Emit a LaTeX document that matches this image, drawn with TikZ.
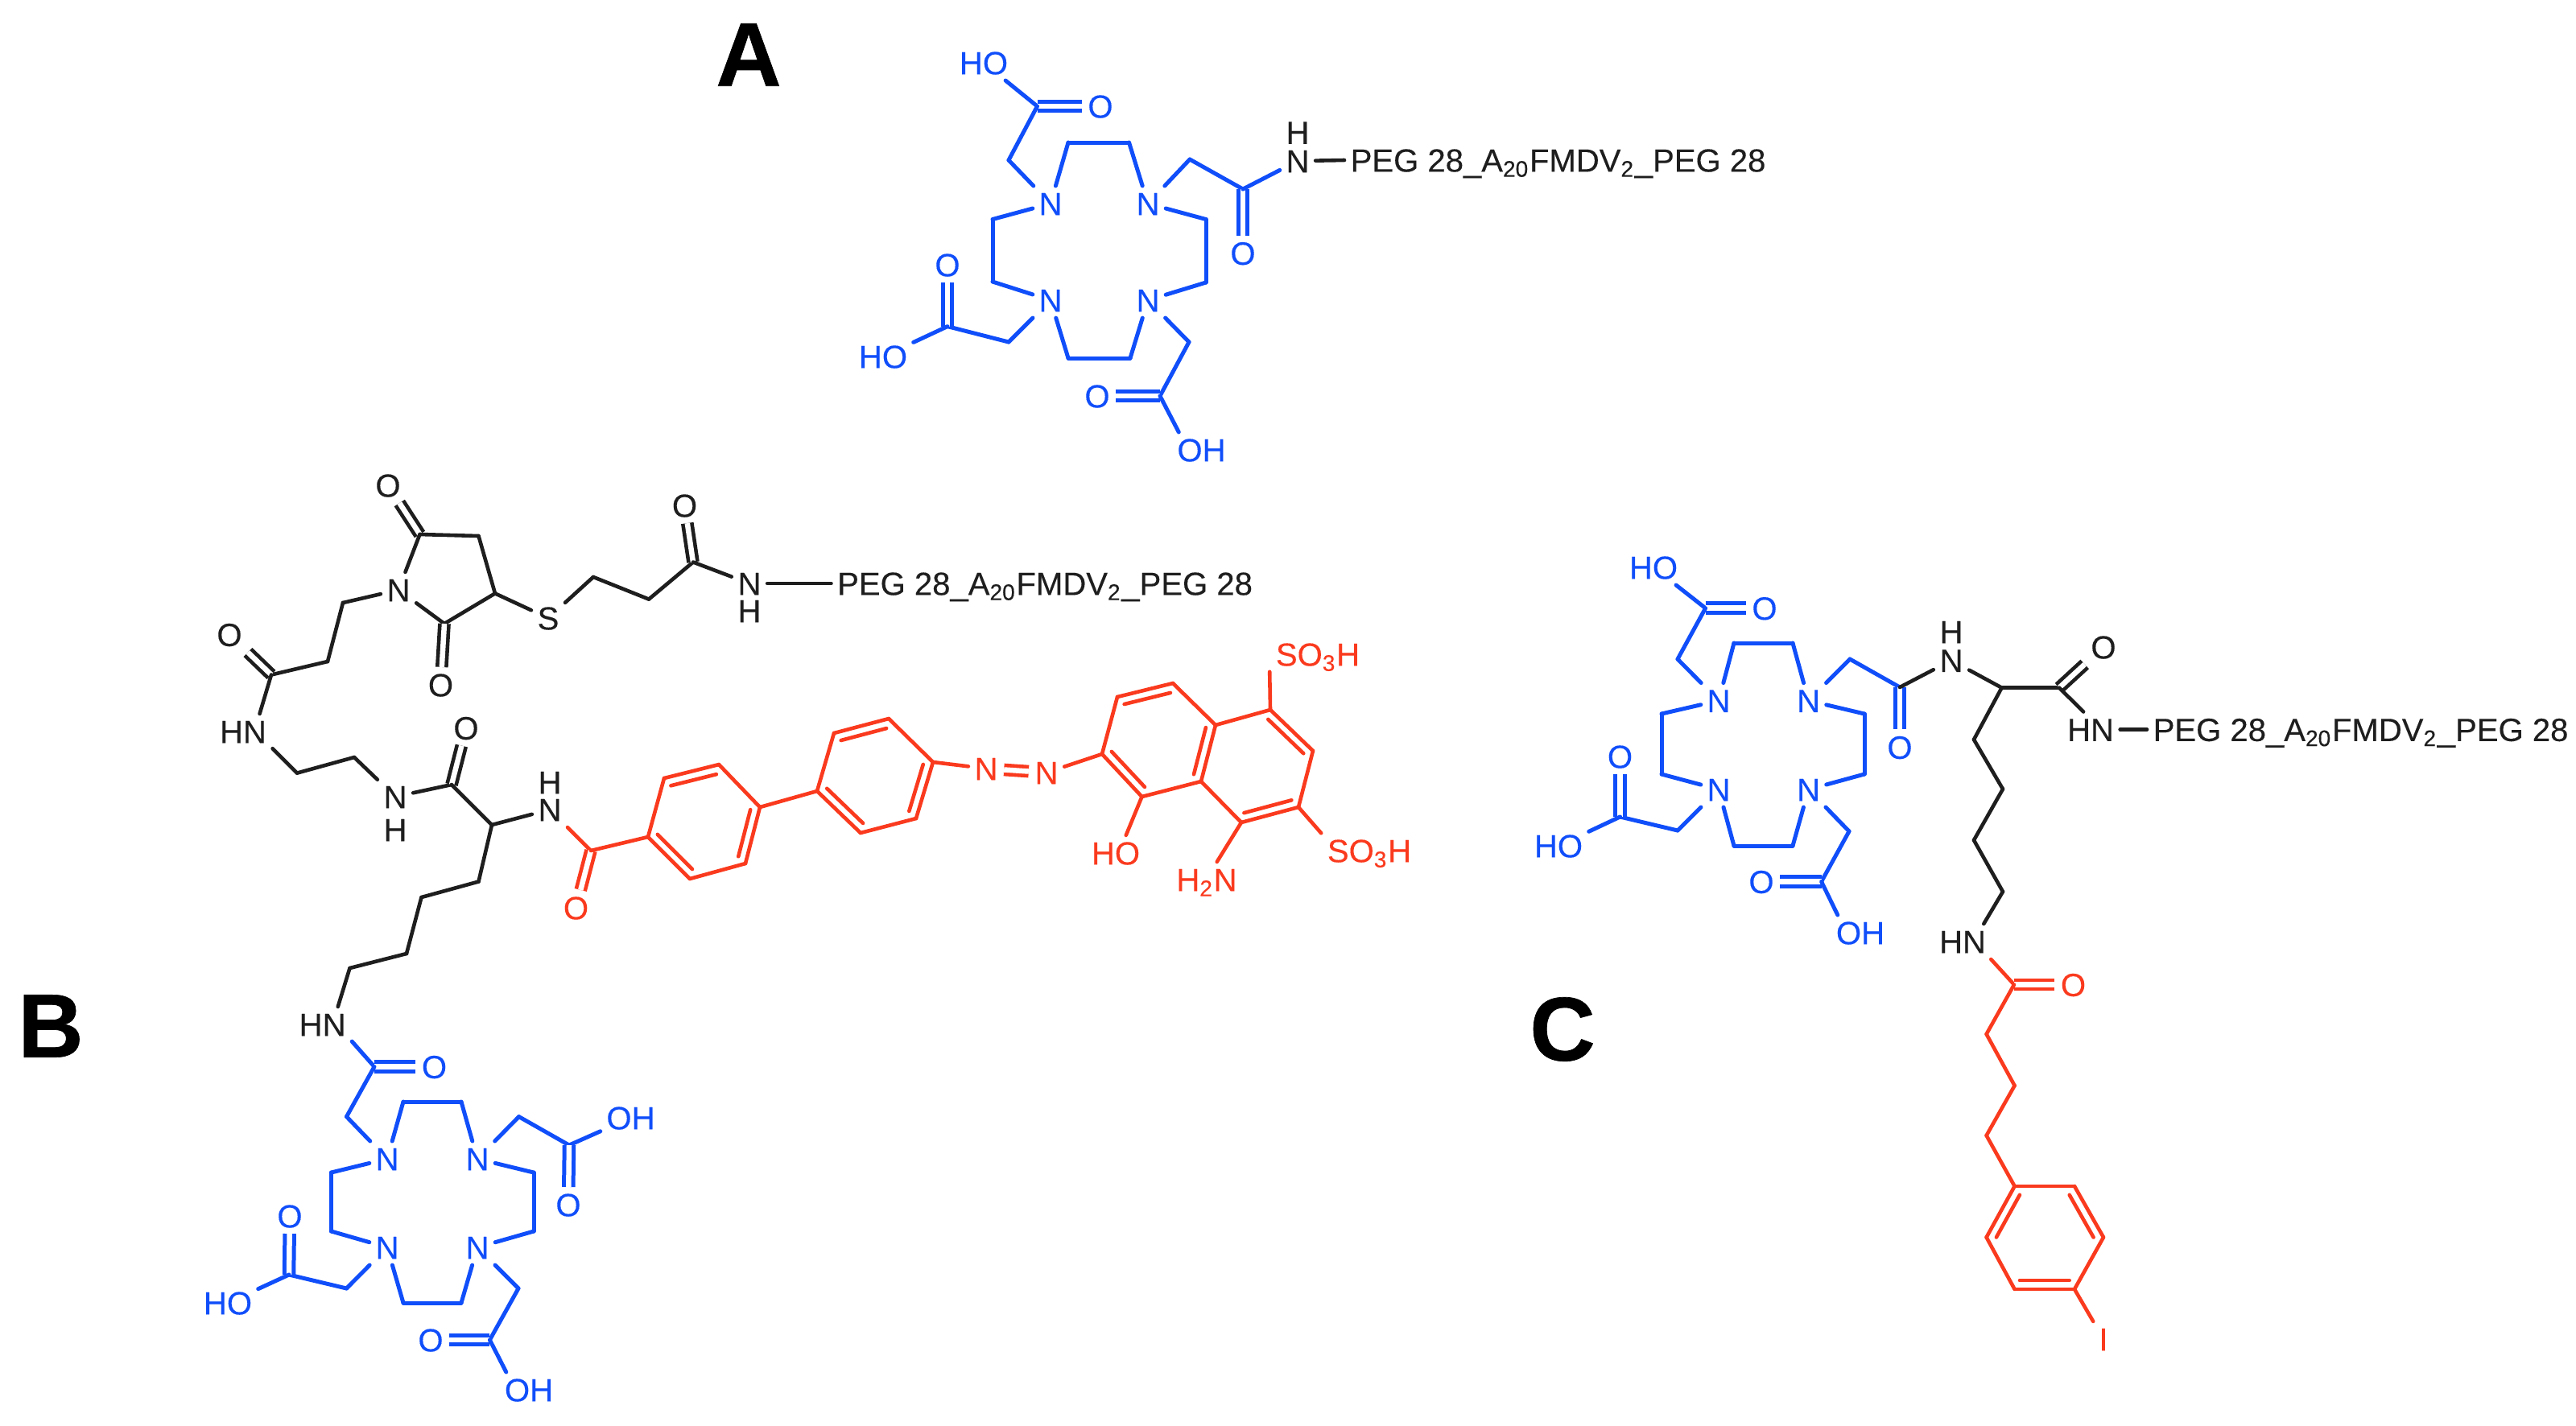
\documentclass[tikz,border=0pt]{standalone}
\usepackage{fontspec}
\setmainfont[BoldFont={Liberation Sans Bold},BoldFeatures={FakeBold=.6},FakeBold=.25]{Liberation Sans}
\usetikzlibrary{calc}
\definecolor{dotablue}{RGB}{16,78,250}
\definecolor{dyered}{RGB}{250,58,30}
\definecolor{linkgray}{RGB}{30,30,30}
\newcommand{\pegtext}{PEG 28\_A\textsubscript{20}FMDV\textsubscript{2}\_PEG 28}
\begin{document}
\begin{tikzpicture}[x=1cm, y=-1cm,
		n/.style={inner sep=.07cm, text height=.287cm, text depth=0pt, text=linkgray, font=\fontsize{11.4}{13}\selectfont},
		nb/.style={n, text=dotablue},
		nr/.style={n, text=dyered},
		peg/.style={n, anchor=west},
		big/.style={inner sep=0pt, text=black, font=\fontsize{32}{36}\bfseries\selectfont},
		bk/.style={draw=linkgray, line width=.046cm, line cap=round},
		bl/.style={draw=dotablue, line width=.05cm, line cap=round},
		rd/.style={draw=dyered, line width=.046cm, line cap=round},
		dbl/.style={double, double distance=.065cm, line cap=butt}]
		\useasboundingbox (0,0) rectangle (32,17.71);

		\node[big] (lblA) at (9.30, .68) {A};
		\node[big] (lblB) at (.63, 12.75) {B};
		\node[big] (lblC) at (19.41, 12.79) {C};

		\node[nb] (aHO) at (12.22, .78) {HO};
		\coordinate (aC1) at (12.885, 1.32);
		\node[nb] (aO1) at (13.67, 1.32) {O};
		\coordinate (aC2) at (12.53, 1.99);
		\node[nb] (aN1) at (13.05, 2.53) {N};
		\coordinate (aR1) at (13.27, 1.77);
		\coordinate (aR2) at (14.025, 1.77);
		\node[nb] (aN2) at (14.26, 2.53) {N};
		\coordinate (aR3) at (14.98, 2.725);
		\coordinate (aR4) at (14.98, 3.51);
		\node[nb] (aN3) at (14.26, 3.73) {N};
		\coordinate (aR5) at (14.04, 4.45);
		\coordinate (aR6) at (13.27, 4.45);
		\node[nb] (aN4) at (13.05, 3.73) {N};
		\coordinate (aR7) at (12.33, 3.50);
		\coordinate (aR8) at (12.33, 2.725);
		\coordinate (aC3) at (14.78, 1.98);
		\coordinate (aC4) at (15.44, 2.35);
		\node[nb] (aO2) at (15.44, 3.146) {O};
		\node[n] (aN5) at (16.12, 2.00) {N};
		\node[n] (aH) at (16.12, 1.645) {H};
		\node[peg] (aPeg) at (16.70, 1.99) {\pegtext};
		\coordinate (aC5) at (12.53, 4.25);
		\coordinate (aC6) at (11.77, 4.056);
		\node[nb] (aO3) at (11.77, 3.29) {O};
		\node[nb] (aHO2) at (10.97, 4.43) {HO};
		\coordinate (aC7) at (14.77, 4.25);
		\coordinate (aC8) at (14.41, 4.92);
		\node[nb] (aO4) at (13.63, 4.92) {O};
		\node[nb] (aOH) at (14.925, 5.59) {OH};

		\draw[bl] (aC1) edge (aHO);
		\draw[bl] (aC1) edge[dbl] (aO1);
		\draw[bl] (aC1) edge (aC2);
		\draw[bl] (aC2) edge (aN1);
		\draw[bl] (aN1) edge (aR1);
		\draw[bl] (aR1) edge (aR2);
		\draw[bl] (aR2) edge (aN2);
		\draw[bl] (aN2) edge (aR3);
		\draw[bl] (aR3) edge (aR4);
		\draw[bl] (aR4) edge (aN3);
		\draw[bl] (aN3) edge (aR5);
		\draw[bl] (aR5) edge (aR6);
		\draw[bl] (aR6) edge (aN4);
		\draw[bl] (aN4) edge (aR7);
		\draw[bl] (aR7) edge (aR8);
		\draw[bl] (aR8) edge (aN1);
		\draw[bl] (aN2) edge (aC3);
		\draw[bl] (aC3) edge (aC4);
		\draw[bl] (aC4) edge[dbl] (aO2);
		\draw[bl] (aC4) edge (aN5);
		\draw[bk] (aN5) edge (aPeg.west);
		\draw[bl] (aN4) edge (aC5);
		\draw[bl] (aC5) edge (aC6);
		\draw[bl] (aC6) edge[dbl] (aO3);
		\draw[bl] (aC6) edge (aHO2);
		\draw[bl] (aN3) edge (aC7);
		\draw[bl] (aC7) edge (aC8);
		\draw[bl] (aC8) edge[dbl] (aO4);
		\draw[bl] (aC8) edge (aOH.142);

		\node[n] (bO1) at (4.82, 6.03) {O};
		\coordinate (bC1) at (5.215, 6.64);
		\coordinate (bC2) at (5.945, 6.66);
		\coordinate (bC3) at (6.15, 7.374);
		\coordinate (bC4) at (5.52, 7.75);
		\node[n] (bO2) at (5.475, 8.51) {O};
		\node[n] (bN1) at (4.95, 7.33) {N};
		\node[n] (bS) at (6.81, 7.68) {S};
		\coordinate (bC5) at (7.37, 7.17);
		\coordinate (bC6) at (8.06, 7.446);
		\coordinate (bC7) at (8.61, 6.985);
		\node[n] (bO3) at (8.505, 6.28) {O};
		\node[n] (bN2) at (9.31, 7.25) {N};
		\node[n] (bH1) at (9.31, 7.59) {H};
		\node[peg] (bPeg) at (10.325, 7.25) {\pegtext};
		\coordinate (bC8) at (4.26, 7.49);
		\coordinate (bC9) at (4.07, 8.22);
		\coordinate (bC10) at (3.37, 8.385);
		\node[n] (bO4) at (2.85, 7.885) {O};
		\node[n] (bHN1) at (3.02, 9.09) {HN};
		\coordinate (bC11) at (3.69, 9.606);
		\coordinate (bC12) at (4.40, 9.41);
		\node[n] (bN3) at (4.91, 9.90) {N};
		\node[n] (bH2) at (4.91, 10.31) {H};
		\coordinate (bC13) at (5.61, 9.75);
		\node[n] (bO5) at (5.79, 9.045) {O};
		\coordinate (bC14) at (6.11, 10.25);
		\node[n] (bN4) at (6.83, 10.06) {N};
		\node[n] (bH3) at (6.83, 9.72) {H};
		\coordinate (bC15) at (5.945, 10.955);
		\coordinate (bC16) at (5.235, 11.15);
		\coordinate (bC17) at (5.05, 11.85);
		\coordinate (bC18) at (4.345, 12.03);
		\node[n] (bHN2) at (4.006, 12.73) {HN};

		\draw[bk] (bC1) edge[dbl] (bO1);
		\draw[bk] (bC1) edge (bC2);
		\draw[bk] (bC2) edge (bC3);
		\draw[bk] (bC3) edge (bC4);
		\draw[bk] (bC4) edge (bN1);
		\draw[bk] (bN1) edge (bC1);
		\draw[bk] (bC4) edge[dbl] (bO2);
		\draw[bk] (bC3) edge (bS);
		\draw[bk] (bS) edge (bC5);
		\draw[bk] (bC5) edge (bC6);
		\draw[bk] (bC6) edge (bC7);
		\draw[bk] (bC7) edge[dbl] (bO3);
		\draw[bk] (bC7) edge (bN2);
		\draw[bk] (bN2) edge (bPeg.west);
		\draw[bk] (bN1) edge (bC8);
		\draw[bk] (bC8) edge (bC9);
		\draw[bk] (bC9) edge (bC10);
		\draw[bk] (bC10) edge[dbl] (bO4);
		\draw[bk] (bC10) edge (bHN1.47);
		\draw[bk] (bHN1.-30) edge (bC11);
		\draw[bk] (bC11) edge (bC12);
		\draw[bk] (bC12) edge (bN3);
		\draw[bk] (bN3) edge (bC13);
		\draw[bk] (bC13) edge[dbl] (bO5);
		\draw[bk] (bC13) edge (bC14);
		\draw[bk] (bC14) edge (bN4);
		\draw[bk] (bC14) edge (bC15);
		\draw[bk] (bC15) edge (bC16);
		\draw[bk] (bC16) edge (bC17);
		\draw[bk] (bC17) edge (bC18);
		\draw[bk] (bC18) edge (bHN2.49);

		\coordinate (dC1) at (7.34, 10.57);
		\node[nr] (dO1) at (7.155, 11.28) {O};
		\coordinate (dA1) at (8.05, 10.40);
		\coordinate (dA2) at (8.57, 10.92);
		\coordinate (dA3) at (9.26, 10.73);
		\coordinate (dA4) at (9.44, 10.03);
		\coordinate (dA5) at (8.93, 9.50);
		\coordinate (dA6) at (8.25, 9.67);
		\coordinate (dAc) at (8.745, 10.215);
		\coordinate (dB1) at (10.15, 9.83);
		\coordinate (dB2) at (10.69, 10.35);
		\coordinate (dB3) at (11.38, 10.17);
		\coordinate (dB4) at (11.59, 9.47);
		\coordinate (dB5) at (11.04, 8.93);
		\coordinate (dB6) at (10.36, 9.11);
		\coordinate (dBc) at (10.87, 9.64);
		\node[nr] (dN1) at (12.25, 9.55) {N};
		\node[nr] (dN2) at (13.00, 9.60) {N};
		\coordinate (dD1) at (13.69, 9.37);
		\coordinate (dD2) at (14.185, 9.90);
		\coordinate (dD3) at (14.92, 9.71);
		\coordinate (dD4) at (15.10, 9.01);
		\coordinate (dD5) at (14.57, 8.49);
		\coordinate (dD6) at (13.88, 8.66);
		\coordinate (dDc) at (14.39, 9.19);
		\coordinate (dE1) at (15.78, 8.82);
		\coordinate (dE2) at (16.31, 9.33);
		\coordinate (dE3) at (16.13, 10.03);
		\coordinate (dE4) at (15.42, 10.22);
		\coordinate (dEc) at (15.62, 9.52);
		\node[nr] (dS1) at (16.37, 8.13) {SO\textsubscript{3}H};
		\node[nr] (dS2) at (17.01, 10.57) {SO\textsubscript{3}H};
		\node[nr] (dHO) at (13.86, 10.60) {HO};
		\node[nr] (dNH) at (14.99, 10.93) {H\textsubscript{2}N};

		\draw[rd] (bN4) edge (dC1);
		\draw[rd] (dC1) edge[dbl] (dO1);
		\draw[rd] (dC1) edge (dA1);
		\draw[rd] (dA1) edge (dA2);
		\draw[rd] (dA2) edge (dA3);
		\draw[rd] (dA3) edge (dA4);
		\draw[rd] (dA4) edge (dA5);
		\draw[rd] (dA5) edge (dA6);
		\draw[rd] (dA6) edge (dA1);
		\draw[rd] (dA4) edge (dB1);
		\draw[rd] (dB1) edge (dB2);
		\draw[rd] (dB2) edge (dB3);
		\draw[rd] (dB3) edge (dB4);
		\draw[rd] (dB4) edge (dB5);
		\draw[rd] (dB5) edge (dB6);
		\draw[rd] (dB6) edge (dB1);
		\draw[rd] (dB4) edge (dN1);
		\draw[rd] (dN1) edge[dbl] (dN2);
		\draw[rd] (dN2) edge (dD1);
		\draw[rd] (dD1) edge (dD2);
		\draw[rd] (dD2) edge (dD3);
		\draw[rd] (dD3) edge (dD4);
		\draw[rd] (dD4) edge (dD5);
		\draw[rd] (dD5) edge (dD6);
		\draw[rd] (dD6) edge (dD1);
		\draw[rd] (dD4) edge (dE1);
		\draw[rd] (dE1) edge (dE2);
		\draw[rd] (dE2) edge (dE3);
		\draw[rd] (dE3) edge (dE4);
		\draw[rd] (dE4) edge (dD3);
		\draw[rd] (dE1) edge (dS1.-160);
		\draw[rd] (dE3) edge (dS2.160);
		\draw[rd] (dD2) edge (dHO.60);
		\draw[rd] (dE4) edge (dNH.60);
		\draw[rd] ($(dA6)!.17!(dAc)$) -- ($(dA5)!.17!(dAc)$);
		\draw[rd] ($(dA1)!.17!(dAc)$) -- ($(dA2)!.17!(dAc)$);
		\draw[rd] ($(dA3)!.17!(dAc)$) -- ($(dA4)!.17!(dAc)$);
		\draw[rd] ($(dB6)!.17!(dBc)$) -- ($(dB5)!.17!(dBc)$);
		\draw[rd] ($(dB1)!.17!(dBc)$) -- ($(dB2)!.17!(dBc)$);
		\draw[rd] ($(dB3)!.17!(dBc)$) -- ($(dB4)!.17!(dBc)$);
		\draw[rd] ($(dD6)!.17!(dDc)$) -- ($(dD5)!.17!(dDc)$);
		\draw[rd] ($(dD1)!.17!(dDc)$) -- ($(dD2)!.17!(dDc)$);
		\draw[rd] ($(dD3)!.17!(dDc)$) -- ($(dD4)!.17!(dDc)$);
		\draw[rd] ($(dE1)!.17!(dEc)$) -- ($(dE2)!.17!(dEc)$);
		\draw[rd] ($(dE3)!.17!(dEc)$) -- ($(dE4)!.17!(dEc)$);

		\coordinate (eC1) at (4.65, 13.255);
		\node[nb] (eO1) at (5.395, 13.255) {O};
		\coordinate (eC2) at (4.305, 13.876);
		\node[nb] (eN1) at (4.81, 14.40) {N};
		\coordinate (eR1) at (5.01, 13.69);
		\coordinate (eR2) at (5.73, 13.69);
		\node[nb] (eN2) at (5.93, 14.40) {N};
		\coordinate (eR3) at (6.63, 14.57);
		\coordinate (eR4) at (6.63, 15.30);
		\node[nb] (eN3) at (5.93, 15.50) {N};
		\coordinate (eR5) at (5.73, 16.19);
		\coordinate (eR6) at (5.01, 16.19);
		\node[nb] (eN4) at (4.81, 15.50) {N};
		\coordinate (eR7) at (4.115, 15.30);
		\coordinate (eR8) at (4.115, 14.57);
		\coordinate (eC3) at (6.446, 13.876);
		\coordinate (eC4) at (7.07, 14.23);
		\node[nb] (eOH1) at (7.835, 13.89) {OH};
		\node[nb] (eO2) at (7.06, 14.97) {O};
		\coordinate (eC5) at (4.305, 16.01);
		\coordinate (eC6) at (3.59, 15.84);
		\node[nb] (eO3) at (3.60, 15.11) {O};
		\node[nb] (eHO) at (2.83, 16.19) {HO};
		\coordinate (eC7) at (6.44, 16.01);
		\coordinate (eC8) at (6.084, 16.65);
		\node[nb] (eO4) at (5.35, 16.65) {O};
		\node[nb] (eOH2) at (6.57, 17.27) {OH};

		\draw[bl] (bHN2.-30) edge (eC1);
		\draw[bl] (eC1) edge[dbl] (eO1);
		\draw[bl] (eC1) edge (eC2);
		\draw[bl] (eC2) edge (eN1);
		\draw[bl] (eN1) edge (eR1);
		\draw[bl] (eR1) edge (eR2);
		\draw[bl] (eR2) edge (eN2);
		\draw[bl] (eN2) edge (eR3);
		\draw[bl] (eR3) edge (eR4);
		\draw[bl] (eR4) edge (eN3);
		\draw[bl] (eN3) edge (eR5);
		\draw[bl] (eR5) edge (eR6);
		\draw[bl] (eR6) edge (eN4);
		\draw[bl] (eN4) edge (eR7);
		\draw[bl] (eR7) edge (eR8);
		\draw[bl] (eR8) edge (eN1);
		\draw[bl] (eN2) edge (eC3);
		\draw[bl] (eC3) edge (eC4);
		\draw[bl] (eC4) edge (eOH1);
		\draw[bl] (eC4) edge[dbl] (eO2);
		\draw[bl] (eN4) edge (eC5);
		\draw[bl] (eC5) edge (eC6);
		\draw[bl] (eC6) edge[dbl] (eO3);
		\draw[bl] (eC6) edge (eHO);
		\draw[bl] (eN3) edge (eC7);
		\draw[bl] (eC7) edge (eC8);
		\draw[bl] (eC8) edge[dbl] (eO4);
		\draw[bl] (eC8) edge (eOH2.142);

		\node[nb] (cHO) at (20.54, 7.05) {HO};
		\coordinate (cC1) at (21.186, 7.557);
		\node[nb] (cO1) at (21.92, 7.557) {O};
		\coordinate (cC2) at (20.84, 8.19);
		\node[nb] (cN1) at (21.35, 8.706) {N};
		\coordinate (cR1) at (21.54, 7.99);
		\coordinate (cR2) at (22.27, 7.99);
		\node[nb] (cN2) at (22.466, 8.706) {N};
		\coordinate (cR3) at (23.16, 8.87);
		\coordinate (cR4) at (23.16, 9.62);
		\node[nb] (cN3) at (22.466, 9.81) {N};
		\coordinate (cR5) at (22.27, 10.51);
		\coordinate (cR6) at (21.54, 10.51);
		\node[nb] (cN4) at (21.35, 9.81) {N};
		\coordinate (cR7) at (20.64, 9.62);
		\coordinate (cR8) at (20.64, 8.87);
		\coordinate (cC3) at (22.98, 8.19);
		\coordinate (cC4) at (23.60, 8.54);
		\node[nb] (cO2) at (23.60, 9.285) {O};
		\node[n] (cN5) at (24.24, 8.206) {N};
		\node[n] (cH1) at (24.24, 7.85) {H};
		\coordinate (cC5) at (24.866, 8.546);
		\coordinate (cC6) at (25.58, 8.546);
		\node[n] (cO3) at (26.13, 8.04) {O};
		\node[n] (cHN1) at (25.97, 9.065) {HN};
		\node[peg] (cPeg) at (26.67, 9.065) {\pegtext};
		\coordinate (cC7) at (24.52, 9.19);
		\coordinate (cC8) at (24.88, 9.805);
		\coordinate (cC9) at (24.52, 10.44);
		\coordinate (cC10) at (24.88, 11.08);
		\node[n] (cHN2) at (24.38, 11.70) {HN};
		\coordinate (cC11) at (20.84, 10.32);
		\coordinate (cC12) at (20.125, 10.15);
		\node[nb] (cO4) at (20.125, 9.40) {O};
		\node[nb] (cHO2) at (19.36, 10.51) {HO};
		\coordinate (cC13) at (22.97, 10.33);
		\coordinate (cC14) at (22.626, 10.955);
		\node[nb] (cO5) at (21.88, 10.955) {O};
		\node[nb] (cOH) at (23.11, 11.59) {OH};
		\coordinate (cD1) at (25.02, 12.235);
		\node[nr] (cO6) at (25.755, 12.235) {O};
		\coordinate (cD2) at (24.676, 12.85);
		\coordinate (cD3) at (25.026, 13.49);
		\coordinate (cD4) at (24.676, 14.11);
		\coordinate (cD5) at (25.026, 14.74);
		\coordinate (cD6) at (25.77, 14.74);
		\coordinate (cD7) at (26.13, 15.375);
		\coordinate (cD8) at (25.77, 16.02);
		\coordinate (cD9) at (25.026, 16.02);
		\coordinate (cD10) at (24.676, 15.375);
		\coordinate (cDc) at (25.40, 15.375);
		\node[nr] (cI) at (26.13, 16.64) {I};

		\draw[bl] (cC1) edge (cHO);
		\draw[bl] (cC1) edge[dbl] (cO1);
		\draw[bl] (cC1) edge (cC2);
		\draw[bl] (cC2) edge (cN1);
		\draw[bl] (cN1) edge (cR1);
		\draw[bl] (cR1) edge (cR2);
		\draw[bl] (cR2) edge (cN2);
		\draw[bl] (cN2) edge (cR3);
		\draw[bl] (cR3) edge (cR4);
		\draw[bl] (cR4) edge (cN3);
		\draw[bl] (cN3) edge (cR5);
		\draw[bl] (cR5) edge (cR6);
		\draw[bl] (cR6) edge (cN4);
		\draw[bl] (cN4) edge (cR7);
		\draw[bl] (cR7) edge (cR8);
		\draw[bl] (cR8) edge (cN1);
		\draw[bl] (cN2) edge (cC3);
		\draw[bl] (cC3) edge (cC4);
		\draw[bl] (cC4) edge[dbl] (cO2);
		\draw[bk] (cC4) edge (cN5);
		\draw[bk] (cN5) edge (cC5);
		\draw[bk] (cC5) edge (cC6);
		\draw[bk] (cC6) edge[dbl] (cO3);
		\draw[bk] (cC6) edge (cHN1.112);
		\draw[bk] (cHN1) edge (cPeg.west);
		\draw[bk] (cC5) edge (cC7);
		\draw[bk] (cC7) edge (cC8);
		\draw[bk] (cC8) edge (cC9);
		\draw[bk] (cC9) edge (cC10);
		\draw[bk] (cC10) edge (cHN2.40);
		\draw[bl] (cN4) edge (cC11);
		\draw[bl] (cC11) edge (cC12);
		\draw[bl] (cC12) edge[dbl] (cO4);
		\draw[bl] (cC12) edge (cHO2);
		\draw[bl] (cN3) edge (cC13);
		\draw[bl] (cC13) edge (cC14);
		\draw[bl] (cC14) edge[dbl] (cO5);
		\draw[bl] (cC14) edge (cOH.142);
		\draw[rd] (cHN2.-32) edge (cD1);
		\draw[rd] (cD1) edge[dbl] (cO6);
		\draw[rd] (cD1) edge (cD2);
		\draw[rd] (cD2) edge (cD3);
		\draw[rd] (cD3) edge (cD4);
		\draw[rd] (cD4) edge (cD5);
		\draw[rd] (cD5) edge (cD6);
		\draw[rd] (cD6) edge (cD7);
		\draw[rd] (cD7) edge (cD8);
		\draw[rd] (cD8) edge (cD9);
		\draw[rd] (cD9) edge (cD10);
		\draw[rd] (cD10) edge (cD5);
		\draw[rd] (cD8) edge (cI);
		\draw[rd] ($(cD5)!.17!(cDc)$) -- ($(cD10)!.17!(cDc)$);
		\draw[rd] ($(cD6)!.17!(cDc)$) -- ($(cD7)!.17!(cDc)$);
		\draw[rd] ($(cD8)!.17!(cDc)$) -- ($(cD9)!.17!(cDc)$);
\end{tikzpicture}
\end{document}
